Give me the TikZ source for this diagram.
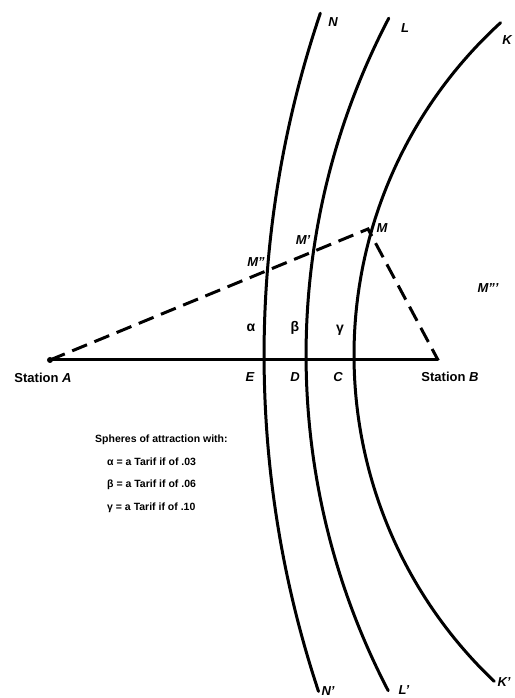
\documentclass[tikz,border=0pt]{standalone}
\usepackage{fontspec}
\setmainfont{Liberation Sans}
\usepackage{tikz}

\begin{document}
\begin{tikzpicture}[x=1pt, y=1pt, line cap=round,
    sphere/.style={line width=3pt},
    route/.style={line width=3pt, line cap=butt, dash pattern=on 16pt off 8pt},
    pt/.style={font=\bfseries\itshape\fontsize{13}{15}\selectfont, inner sep=0pt},
    zone/.style={font=\bfseries\fontsize{14}{16}\selectfont, inner sep=0pt},
    keyline/.style={font=\bfseries\fontsize{10.5}{12}\selectfont, inner sep=0pt, anchor=west}]
  \useasboundingbox (0,0) rectangle (514,698);
  % stations and the point M
  \coordinate (A) at (50,338);
  \coordinate (B) at (438,338);
  \coordinate (M) at (368,469);
  % centres of the boundary arcs
  \coordinate (cN) at (1330,343);
  \coordinate (cL) at (1033,343);
  \coordinate (cK) at (804,343);
  % base line between the stations
  \draw[line width=3pt] (A) -- (B);
  \fill (A) circle (3pt);
  % the three boundaries
  \draw[sphere] (cN) ++(198.4:1066pt) arc[start angle=198.4, end angle=161.3, radius=1066pt];
  \draw[sphere] (cL) ++(207.5:727pt) arc[start angle=207.5, end angle=152.4, radius=727pt];
  \draw[sphere] (cK) ++(226.5:450pt) arc[start angle=226.5, end angle=132.4, radius=450pt];
  % route A - M - B
  \draw[route] (A) -- (M) -- (B);
  % labels
  \node[pt] (stA) at (43,320) {\upshape Station \itshape A};
  \node[pt] (stB) at (450,321) {\upshape Station \itshape B};
  \node[pt] (lE) at (250,321) {E};
  \node[pt] (lD) at (295,321) {D};
  \node[pt] (lC) at (338,321) {C};
  \node[zone] (la) at (251,370) {α};
  \node[zone] (lb) at (295,370) {β};
  \node[zone] (lg) at (340,368) {γ};
  \node[pt] (lM) at (382,470) {M};
  \node[pt] (lM1) at (303,458) {M'};
  \node[pt] (lM2) at (256,436) {M''};
  \node[pt] (lM3) at (488,410) {M'''};
  \node[pt] (lN) at (333,676) {N};
  \node[pt] (lL) at (405,670) {L};
  \node[pt] (lK) at (507,658) {K};
  \node[pt] (lN1) at (328,7) {N'};
  \node[pt] (lL1) at (404,8) {L'};
  \node[pt] (lK1) at (504,16) {K'};
  % key
  \node[keyline] (key) at (95,258) {Spheres of attraction with:};
  \foreach \g/\v/\y [count=\i] in {α/.03/236, β/.06/213, γ/.10/190}
    \node[keyline] (key\i) at (107,\y) {\g\ = a Tarif if of \v};
\end{tikzpicture}
\end{document}
